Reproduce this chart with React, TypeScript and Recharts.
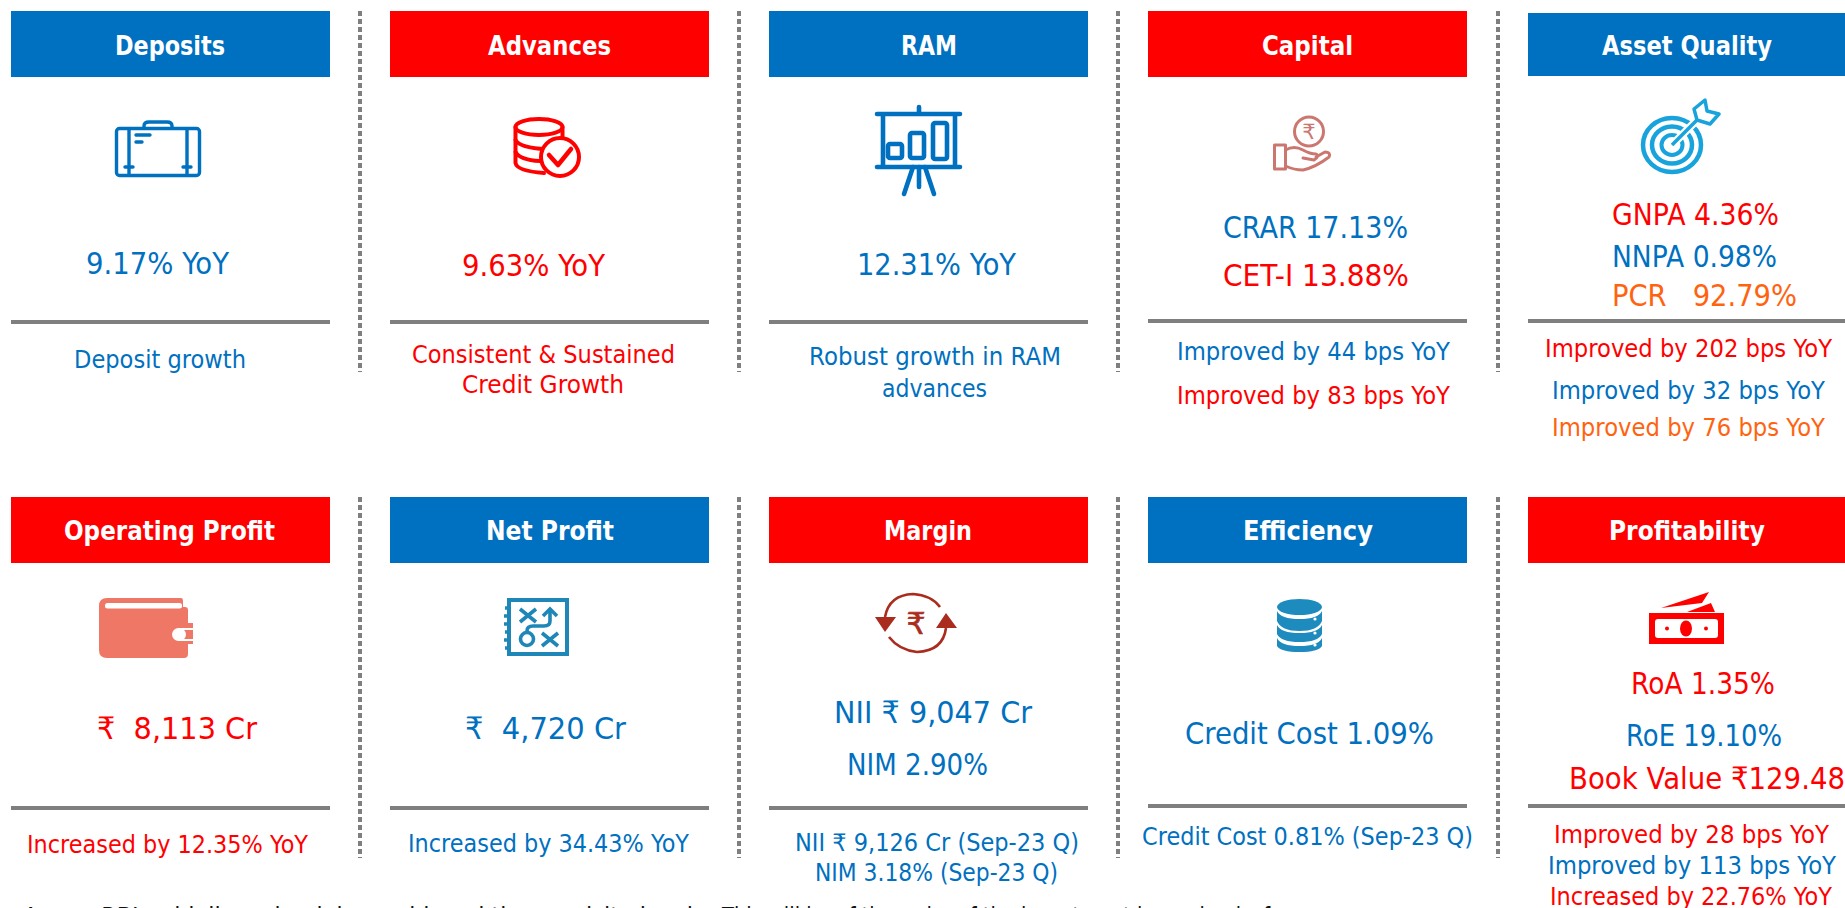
import React from "react";
import {
  ComposedChart,
  XAxis,
  YAxis,
  Scatter,
  ReferenceArea,
  ReferenceLine,
} from "recharts";

const W = 1845;
const H = 908;

// ---- content ----
const cardTitles = [
  "Deposits", "Advances", "RAM", "Capital", "Asset Quality",
  "Operating Profit", "Net Profit", "Margin", "Efficiency", "Profitability",
];

const cardLines = [
  "9.17% YoY", "Deposit growth",
  "9.63% YoY", "Consistent & Sustained", "Credit Growth",
  "12.31% YoY", "Robust growth in RAM", "advances",
  "CRAR 17.13%", "CET-I 13.88%", "Improved by 44 bps YoY", "Improved by 83 bps YoY",
  "GNPA 4.36%", "NNPA 0.98%", "PCR   92.79%",
  "Improved by 202 bps YoY", "Improved by 32 bps YoY", "Improved by 76 bps YoY",
  "₹  8,113 Cr", "Increased by 12.35% YoY",
  "₹  4,720 Cr", "Increased by 34.43% YoY",
  "NII ₹ 9,047 Cr", "NIM 2.90%", "NII ₹ 9,126 Cr (Sep-23 Q)", "NIM 3.18% (Sep-23 Q)",
  "Credit Cost 1.09%", "Credit Cost 0.81% (Sep-23 Q)",
  "RoA 1.35%", "RoE 19.10%", "Book Value ₹129.48",
  "Improved by 28 bps YoY", "Improved by 113 bps YoY", "Increased by 22.76% YoY",
];

// only the tops of this line show at the bottom edge, so the wording is a best guess
const footnotes = [
  "As per RBI guidelines, bank has achieved the requisite level.",
  "This will be of the order of the investment in our books for",
];

// ---- colours ----
const BLUE = "#0070C0";
const RED = "#FF0000";
const ORANGE = "#FF6310";
const GREY = "#7F7F7F";
const titleFills = [BLUE, RED, BLUE, RED, BLUE, RED, BLUE, RED, BLUE, RED];
const lineFills = [
  BLUE, BLUE,
  RED, RED, RED,
  BLUE, BLUE, BLUE,
  BLUE, RED, BLUE, RED,
  RED, BLUE, ORANGE, RED, BLUE, ORANGE,
  RED, RED,
  BLUE, BLUE,
  BLUE, BLUE, BLUE, BLUE,
  BLUE, BLUE,
  RED, BLUE, RED, RED, BLUE, RED,
];

// ---- layout ----
const FONT = '"DejaVu Sans", sans-serif';
const cardLeft = [11, 390, 769, 1148, 1528];
const cardRight = [330, 709, 1088, 1467, 1845];
const dividerX = [360, 739, 1118, 1498];
const rowTop = [11, 497];
const rowBottom = [77, 563];
const dividerEnd = [372, 858];
const ruleY = [322, 322, 322, 321, 321, 808, 808, 808, 806, 806];

const titleStart = [115, 488, 901, 1262, 1602, 64, 486, 884, 1243, 1609];
const titleEnd = [225, 611, 957, 1353, 1772, 275, 614, 972, 1373, 1765];
const titleBase = [55, 55, 55, 55, 55, 540, 540, 540, 540, 540];

const lineStart = [
  86, 74, 462, 412, 462, 857, 809, 882, 1223, 1223, 1177, 1177,
  1612, 1612, 1612, 1545, 1552, 1552,
  97, 27, 465, 408, 834, 847, 795, 815, 1185, 1142,
  1631, 1626, 1569, 1554, 1548, 1550,
];
const lineEnd = [
  229, 246, 605, 675, 624, 1016, 1061, 987, 1408, 1409, 1450, 1450,
  1779, 1777, 1797, 1832, 1825, 1825,
  257, 308, 626, 689, 1032, 988, 1079, 1058, 1434, 1473,
  1775, 1782, 1845, 1829, 1836, 1832,
];
const lineMid = [
  263, 359, 265, 354, 384, 264, 356, 388, 227, 275, 351, 395,
  214, 256, 295, 348, 390, 427,
  728, 844, 728, 843, 712, 764, 842, 872, 733, 836,
  683, 735, 778, 834, 865, 896,
];
const lineSize = [
  31, 25, 31, 25, 25, 31, 25, 25, 31, 31, 25, 25,
  31, 31, 31, 25, 25, 25,
  31, 25, 31, 25, 31, 31, 24, 24, 31, 25,
  31, 31, 31, 25, 25, 25,
];

const noteStart = [23, 722];
const noteEnd = [700, 1290];

const iconX = [115, 514, 875, 1273, 1641, 99, 502, 875, 1277, 1649];
const iconY = [121, 117, 107, 116, 99, 598, 598, 593, 599, 592];

// ---- tables for the chart ----
const titleRows = cardTitles.map((label, i) => ({
  label,
  x: titleStart[i],
  y: titleBase[i],
  width: titleEnd[i] - titleStart[i],
  size: 27,
  fill: "#ffffff",
  weight: 700,
}));

const lineRows = cardLines.map((label, i) => ({
  label,
  x: lineStart[i],
  y: lineMid[i] + lineSize[i] * 0.36,
  width: lineEnd[i] - lineStart[i],
  size: lineSize[i],
  fill: lineFills[i],
  weight: 400,
}));

const noteRows = footnotes.map((label, i) => ({
  label,
  x: noteStart[i],
  y: 925,
  width: noteEnd[i] - noteStart[i],
  size: 24,
  fill: "#111111",
  weight: 400,
}));

const TextMark = ({ cx, cy, payload }: any) => (
  <text
    x={cx}
    y={cy}
    fill={payload.fill}
    fontFamily={FONT}
    fontSize={payload.size}
    fontWeight={payload.weight}
    textLength={payload.width}
    lengthAdjust="spacingAndGlyphs"
    style={{ whiteSpace: "pre" }}
  >
    {payload.label}
  </text>
);

// ---- icons, drawn in their own local box ----
const Briefcase = () => (
  <g fill="none" stroke={BLUE} strokeWidth={3.4} strokeLinecap="round" strokeLinejoin="round">
    <rect x={1.5} y={7.5} width={83} height={47} rx={3} />
    <path d="M29 7 V5 Q29 1 34 1 H52 Q57 1 57 5 V7" />
    <path d="M14 8 V54 M72 8 V54 M10 46 H18 M68 46 H76" />
    <path d="M21 14 H35 M21 21 H27" />
  </g>
);

const DatabaseCheck = () => (
  <g fill="none" stroke={RED} strokeWidth={4} strokeLinecap="round" strokeLinejoin="round">
    <ellipse cx={25} cy={10} rx={23.5} ry={8} />
    <path d="M1.5 10 V46 Q3 54 30 56 M48.5 10 V30" />
    <path d="M1.5 23 Q6 31 32 32 M1.5 35 Q6 43 26 44" />
    <circle cx={46} cy={40} r={19} fill="#ffffff" />
    <path d="M35 38 L44 48 L57 32" strokeWidth={4.5} />
  </g>
);

const Presentation = () => (
  <g fill="none" stroke={BLUE} strokeWidth={4.6} strokeLinecap="round" strokeLinejoin="round">
    <path d="M44 0 V7 M2 7 H85 M2 60 H85 M8 7 V60 M80 7 V60" />
    <rect x={13} y={37} width={14} height={14} rx={2} />
    <rect x={35} y={26} width={14} height={25} rx={2} />
    <rect x={58} y={16} width={14} height={36} rx={2} />
    <path d="M38 60 L29 87 M50 60 L59 87 M44 60 V80" />
  </g>
);

const HandCoin = () => (
  <g fill="none" stroke="#CB7770" strokeWidth={3} strokeLinejoin="round" strokeLinecap="round">
    <circle cx={36} cy={15.5} r={14.5} />
    <text x={36} y={23} textAnchor="middle" fontFamily={FONT} fontSize={21} fill="#CB7770" stroke="none">₹</text>
    <rect x={1.5} y={29} width={11} height={24} />
    <path d="M12.5 34 Q21 29 30 34 Q37 38 43 38 Q47 40 41 44 L30 42 M43 41 L52 36 Q58 36 56 41 Q43 51 30 54 Q21 54 12.5 50" />
  </g>
);

const Target = () => (
  <g fill="none" stroke="#18A3DD">
    <ellipse cx={31} cy={46} rx={29} ry={27} strokeWidth={4.5} />
    <ellipse cx={31} cy={46} rx={20} ry={18.5} strokeWidth={4.5} />
    <ellipse cx={31} cy={46} rx={10.5} ry={10} strokeWidth={4} />
    <path d="M31 46 L62 15" stroke="#ffffff" strokeWidth={8} />
    <path d="M31 46 L60 17" strokeWidth={3.5} />
    <path d="M56 21 L53 10 L64 1 L66 12 L78 15 L69 25 Z" fill="#ffffff" strokeWidth={3.5} strokeLinejoin="round" />
  </g>
);

const Wallet = () => (
  <g>
    <path d="M8 0 H82 Q84 0 84 3 V9 H86 Q89 9 89 12 V25 H94 V46 H89 V56 Q89 60 85 60 H8 Q0 60 0 52 V8 Q0 0 8 0 Z" fill="#EF7766" />
    <rect x={6} y={5} width={77} height={5.5} rx={2.5} fill="#ffffff" />
    <rect x={73} y={30} width={14} height={13} rx={6.5} fill="#ffffff" />
    <rect x={80} y={30} width={14} height={2} fill="#ffffff" />
    <rect x={80} y={41} width={14} height={2} fill="#ffffff" />
  </g>
);

const Notebook = () => (
  <g fill="none" stroke="#1E87B8" strokeWidth={3.6}>
    <rect x={7} y={2} width={58} height={54} strokeWidth={4} />
    <path d="M3 10 H7 M2 18 H7 M2 26 H7 M3 34 H7 M2 42 H7 M3 50 H7" strokeWidth={3.4} />
    <path d="M18 11 L34 24 M34 11 L18 24 M40 35 L56 48 M56 35 L40 48" />
    <path d="M25 34 V33 Q25 28 31 28 H42 Q48 28 48 23 V11" />
    <path d="M41 18 L48 11 L55 18" />
    <circle cx={25} cy={41} r={6.5} />
  </g>
);

const RupeeCycle = () => (
  <g fill="none" stroke="#AA2C1E" strokeWidth={2.6}>
    <path d="M10 24 Q14 2 38 1 Q56 2 65 14" />
    <path d="M71 35 Q68 58 42 59 Q24 57 14 44" />
    <path d="M0 24 H21 L10 39 Z M82 35 H61 L71 20 Z" fill="#AA2C1E" stroke="none" />
    <text x={41} y={41} textAnchor="middle" fontFamily={FONT} fontSize={30} fill="#AA2C1E" stroke="#AA2C1E" strokeWidth={0.6}>₹</text>
  </g>
);

const DatabaseSolid = () => (
  <g fill="#1E8BBF">
    <ellipse cx={22.5} cy={8} rx={22.5} ry={8} />
    <path d="M0 12 Q4 20 22.5 20 Q41 20 45 12 V22 Q41 32 22.5 32 Q4 32 0 22 Z" />
    <path d="M0 26 Q4 34 22.5 34 Q41 34 45 26 V35 Q41 43 22.5 43 Q4 43 0 35 Z" />
    <path d="M0 39 Q4 47 22.5 47 Q41 47 45 39 V47 Q41 53 22.5 53 Q4 53 0 47 Z" />
    <circle cx={38} cy={20} r={1.6} fill="#ffffff" />
    <circle cx={38} cy={34} r={1.6} fill="#ffffff" />
    <circle cx={38} cy={46} r={1.6} fill="#ffffff" />
  </g>
);

const Money = () => (
  <g>
    <path d="M12 16 L60 0 L53 11 Z M38 20 L62 11 L66 20 Z" fill={RED} />
    <rect x={0} y={21} width={75} height={31} fill={RED} />
    <rect x={6} y={27} width={63} height={19} rx={3} fill="#ffffff" />
    <ellipse cx={37} cy={36.5} rx={6} ry={8} fill={RED} />
    <circle cx={18} cy={36.5} r={2} fill={RED} />
    <circle cx={57} cy={36.5} r={2} fill={RED} />
  </g>
);

const iconShapes = [
  Briefcase, DatabaseCheck, Presentation, HandCoin, Target,
  Wallet, Notebook, RupeeCycle, DatabaseSolid, Money,
];

const iconRows = iconShapes.map((Icon, i) => ({ Icon, x: iconX[i], y: iconY[i] }));

const IconMark = ({ cx, cy, payload }: any) => {
  const Icon = payload.Icon;
  return (
    <g transform={`translate(${cx} ${cy})`}>
      <Icon />
    </g>
  );
};

export default function App() {
  return (
    <div style={{ position: "absolute", left: 0, top: 0, width: W, height: H, background: "#ffffff" }}>
      <ComposedChart width={W} height={H} margin={{ top: 0, right: 0, bottom: 0, left: 0 }}>
        <XAxis type="number" dataKey="x" domain={[0, W]} hide allowDataOverflow />
        <YAxis type="number" dataKey="y" domain={[0, H]} reversed hide allowDataOverflow />

        {/* header bands */}
        {cardTitles.map((t, i) => {
          const col = i % 5;
          const row = i < 5 ? 0 : 1;
          return (
            <ReferenceArea
              key={t}
              x1={cardLeft[col]}
              x2={cardRight[col]}
              y1={rowTop[row] + (i === 4 ? 2 : 0)}
              y2={rowBottom[row] - (i === 4 ? 1 : 0)}
              fill={titleFills[i]}
              fillOpacity={1}
              stroke="none"
            />
          );
        })}

        {/* grey rules under each card's value */}
        {cardTitles.map((t, i) => {
          const col = i % 5;
          return (
            <ReferenceArea
              key={`rule-${t}`}
              x1={cardLeft[col]}
              x2={cardRight[col]}
              y1={ruleY[i] - 2}
              y2={ruleY[i] + 2}
              fill={GREY}
              fillOpacity={1}
              stroke="none"
            />
          );
        })}

        {/* dotted column dividers */}
        {rowTop.map((top, r) =>
          dividerX.map((x) => (
            <ReferenceLine
              key={`${r}-${x}`}
              segment={[{ x, y: top }, { x, y: dividerEnd[r] }]}
              stroke={GREY}
              strokeWidth={4}
              strokeDasharray="5 3"
            />
          ))
        )}

        <Scatter data={iconRows} shape={<IconMark />} isAnimationActive={false} />
        <Scatter data={titleRows} shape={<TextMark />} isAnimationActive={false} />
        <Scatter data={lineRows} shape={<TextMark />} isAnimationActive={false} />
        <Scatter data={noteRows} shape={<TextMark />} isAnimationActive={false} />
      </ComposedChart>
    </div>
  );
}
